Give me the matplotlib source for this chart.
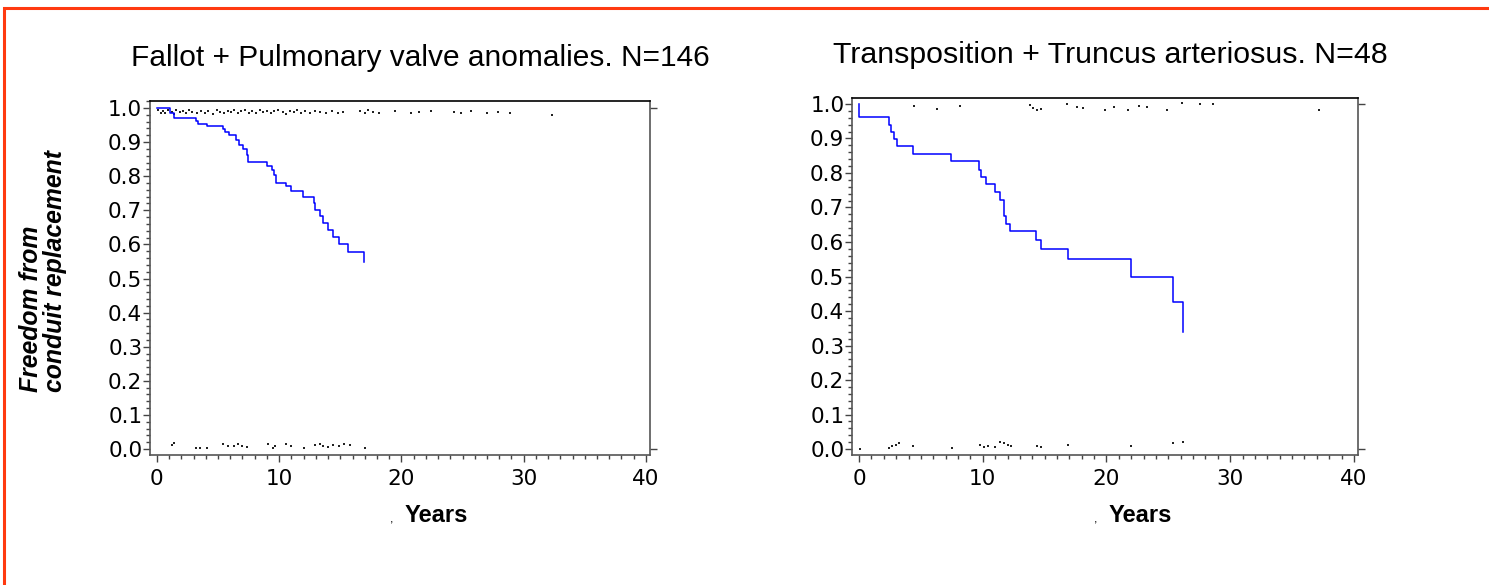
import numpy as np
import matplotlib.pyplot as plt
from matplotlib.patches import Rectangle
from matplotlib.ticker import MultipleLocator

plt.rcParams['font.family'] = ['Liberation Sans', 'DejaVu Sans']

# Kaplan-Meier steps (years, survival after the step)
fallot_t = [0, 1.03, 1.38, 3.17, 3.37, 4.1, 5.37, 5.57, 5.92, 6.5, 6.74, 7.04, 7.33, 7.48,
            9.0, 9.38, 9.59, 9.77, 10.6, 11.0, 11.94, 12.85, 12.93, 13.34, 13.58, 13.99,
            14.43, 14.9, 15.63, 16.95]
fallot_s = [1.0, 0.985, 0.97, 0.961, 0.954, 0.946, 0.938, 0.93, 0.92, 0.907, 0.892, 0.88,
            0.863, 0.841, 0.83, 0.819, 0.803, 0.781, 0.77, 0.757, 0.738, 0.72, 0.70, 0.683,
            0.662, 0.642, 0.623, 0.60, 0.577, 0.547]
fallot_end = 16.95

trans_t = [0, 0.02, 2.41, 2.62, 2.83, 3.1, 4.37, 7.47, 9.73, 9.85, 10.24, 10.96, 11.39,
           11.7, 11.87, 12.23, 14.3, 14.7, 16.87, 21.99, 25.36, 26.17]
trans_s = [1.0, 0.961, 0.939, 0.919, 0.898, 0.877, 0.856, 0.834, 0.81, 0.788, 0.767, 0.744,
           0.722, 0.676, 0.653, 0.631, 0.607, 0.58, 0.55, 0.498, 0.425, 0.339]
trans_end = 26.17

# censoring / event marks along the top and bottom
fallot_top_x = [0.1, 0.3, 0.5, 0.7, 0.9, 1.2, 1.4, 1.6, 1.9, 2.1, 2.4, 2.6, 2.9, 3.3, 3.6,
                3.9, 4.2, 4.6, 4.9, 5.2, 5.5, 5.8, 6.1, 6.3, 6.6, 6.9, 7.2, 7.5, 7.8, 8.1,
                8.4, 8.7, 9.0, 9.3, 9.6, 9.9, 10.3, 10.6, 10.9, 11.2, 11.5, 11.8, 12.1,
                12.5, 12.9, 13.3, 13.8, 14.3, 14.8, 15.2, 16.6, 17.0, 17.3, 17.7, 18.2,
                19.5, 20.8, 21.4, 22.4, 24.3, 24.9, 25.7, 27.0, 27.9, 28.9, 32.3]
fallot_top_y = [0.994, 0.986, 0.992, 0.984, 0.995, 0.988, 0.982, 0.993, 0.987, 0.991, 0.985,
                0.993, 0.988, 0.984, 0.992, 0.986, 0.990, 0.983, 0.994, 0.988, 0.985, 0.992,
                0.987, 0.995, 0.984, 0.990, 0.993, 0.986, 0.991, 0.984, 0.994, 0.988, 0.992,
                0.985, 0.990, 0.994, 0.987, 0.983, 0.992, 0.988, 0.994, 0.986, 0.990, 0.984,
                0.992, 0.987, 0.985, 0.990, 0.984, 0.988, 0.992, 0.986, 0.994, 0.989, 0.985,
                0.990, 0.984, 0.988, 0.991, 0.987, 0.985, 0.990, 0.984, 0.988, 0.986, 0.980]
fallot_bot_x = [1.2, 1.4, 3.2, 3.5, 4.1, 5.4, 5.8, 6.3, 6.6, 7.0, 7.4, 9.1, 9.5, 9.7, 10.6,
                11.0, 12.0, 12.9, 13.3, 13.6, 14.0, 14.4, 14.9, 15.3, 15.8, 17.0]
fallot_bot_y = [0.012, 0.018, 0.004, 0.004, 0.004, 0.014, 0.010, 0.008, 0.014, 0.010, 0.006,
                0.016, 0.004, 0.010, 0.014, 0.008, 0.002, 0.012, 0.016, 0.010, 0.006, 0.012,
                0.008, 0.016, 0.012, 0.004]

trans_top_x = [4.46, 6.27, 8.19, 13.8, 14.1, 14.4, 14.7, 16.8, 17.6, 18.1, 19.9, 20.6, 21.7,
               22.6, 23.3, 24.9, 26.1, 27.6, 28.6, 37.2]
trans_top_y = [0.995, 0.986, 0.993, 0.996, 0.988, 0.984, 0.986, 0.999, 0.991, 0.988, 0.984,
               0.992, 0.984, 0.993, 0.991, 0.984, 1.002, 1.000, 1.000, 0.984]
trans_bot_x = [0.06, 2.4, 2.7, 3.0, 3.2, 4.4, 7.5, 9.8, 10.1, 10.4, 11.0, 11.4, 11.7, 12.0,
               12.3, 14.4, 14.7, 16.9, 22.0, 25.4, 26.2]
trans_bot_y = [0.0, 0.003, 0.010, 0.013, 0.016, 0.010, 0.003, 0.013, 0.006, 0.010, 0.006,
               0.020, 0.016, 0.013, 0.008, 0.010, 0.006, 0.013, 0.010, 0.018, 0.020]

titles = ['Fallot + Pulmonary valve anomalies. N=146',
          'Transposition + Truncus arteriosus. N=48']

fig = plt.figure(figsize=(14.89, 5.85), dpi=100)

# orange frame around the slide panel
fig.patches.append(Rectangle((0.0027, -0.05), 1.1, 1.036, transform=fig.transFigure,
                             fill=False, edgecolor='#ff3a10', linewidth=2.2))

ax1 = fig.add_axes([0.1007, 0.2222, 0.3358, 0.6051])
ax2 = fig.add_axes([0.5722, 0.2222, 0.3398, 0.6103])

panels = [
    (ax1, fallot_t, fallot_s, fallot_end, fallot_top_x, fallot_top_y, fallot_bot_x, fallot_bot_y, (-0.0176, 1.0205)),
    (ax2, trans_t, trans_s, trans_end, trans_top_x, trans_top_y, trans_bot_x, trans_bot_y, (-0.0174, 1.0174)),
]

for ax, t, s, tend, tx, ty, bx, by, ylim in panels:
    xs = list(t) + [tend]
    ys = list(s) + [s[-1]]
    ax.step(xs, ys, where='post', color='#0000ff', lw=1.1)
    ax.scatter(tx, ty, s=1.2, color='#222222', marker='s', lw=0)
    ax.scatter(bx, by, s=1.2, color='#222222', marker='s', lw=0)

    ax.set_xlim(-0.57, 40.33)
    ax.set_ylim(*ylim)
    ax.xaxis.set_major_locator(MultipleLocator(10))
    ax.xaxis.set_minor_locator(MultipleLocator(1))
    ax.yaxis.set_major_locator(MultipleLocator(0.1))
    ax.yaxis.set_minor_locator(MultipleLocator(0.02))
    ax.yaxis.set_major_formatter(plt.FuncFormatter(lambda v, p: f'{v:.1f}'))
    ax.tick_params(which='major', direction='out', length=5, width=1, color='#444444',
                   labelsize=15.5, pad=0.5)
    ax.tick_params(which='minor', direction='out', length=3, width=1, color='#444444')
    for lab in ax.get_xticklabels() + ax.get_yticklabels():
        lab.set_fontfamily('DejaVu Sans')
    ax.tick_params(axis='x', pad=5)

    for side in ['left', 'bottom', 'right']:
        ax.spines[side].set_color('#555555')
        ax.spines[side].set_linewidth(1.2)
    ax.spines['top'].set_color('black')
    ax.spines['top'].set_linewidth(1.2)

    sec = ax.secondary_yaxis('right')
    sec.set_yticks([0.0, 1.0])
    sec.set_yticklabels([])
    sec.tick_params(direction='out', length=5, width=1, color='#444444')
    sec.spines['right'].set_visible(False)

fig.text(0.2825, 0.900, titles[0], ha='center', va='center', fontsize=21.5)
fig.text(0.7455, 0.906, titles[1], ha='center', va='center', fontsize=21.8)

fig.text(0.293, 0.118, 'Years', ha='center', va='center', fontsize=17, fontweight='bold')
fig.text(0.766, 0.118, 'Years', ha='center', va='center', fontsize=17, fontweight='bold')
fig.text(0.263, 0.112, ',', ha='center', va='center', fontsize=9)
fig.text(0.736, 0.112, ',', ha='center', va='center', fontsize=9)

fig.text(0.029, 0.537, 'Freedom from\nconduit replacement', ha='center', va='center',
         rotation=90, fontsize=17.8, fontweight='bold', fontstyle='italic', linespacing=1.0,
         multialignment='left')

fig.savefig('out.png', dpi=100)
